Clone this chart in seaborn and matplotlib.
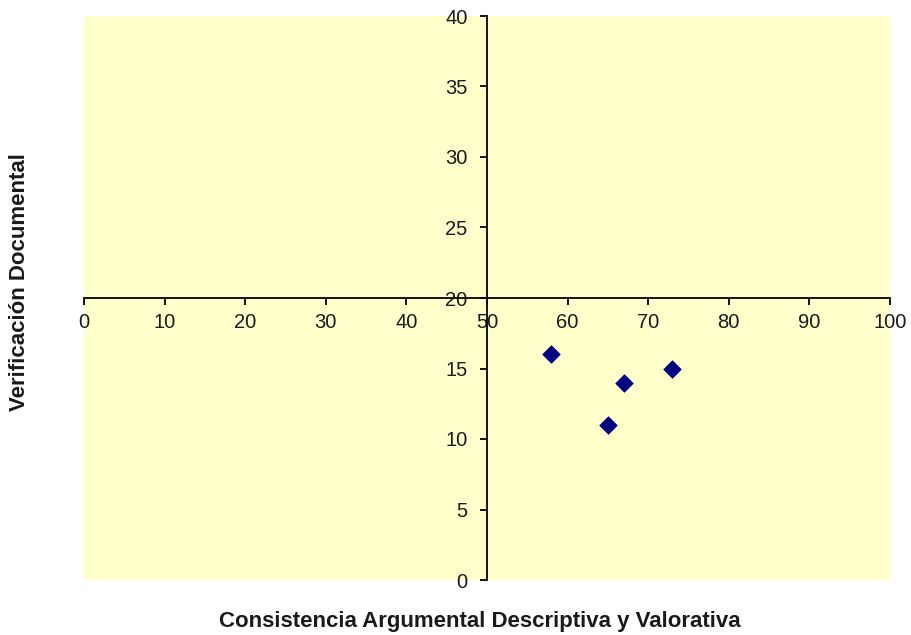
import matplotlib
matplotlib.use("Agg")
import matplotlib.pyplot as plt
import seaborn as sns
import pandas as pd

x_vals = [58, 65, 67, 73]
y_vals = [16, 11, 14, 15]
x_label = "Consistencia Argumental Descriptiva y Valorativa"
y_label = "Verificación Documental"
x_ticks = [0, 10, 20, 30, 40, 50, 60, 70, 80, 90, 100]
y_ticks = [0, 5, 10, 15, 20, 25, 30, 35, 40]

sns.set_theme(style="white")
plt.rcParams['font.family'] = ['Liberation Sans', 'DejaVu Sans']

df = pd.DataFrame({"x": x_vals, "y": y_vals})

fig = plt.figure(figsize=(9.12, 6.35), dpi=100)
ax = fig.add_axes([84/912, 55/635, (890-84)/912, (580-16)/635])
ax.set_facecolor("#FFFFCC")

sns.scatterplot(data=df, x="x", y="y", marker="D", s=80, color="#000080",
                edgecolor="#000080", linewidth=0.5, ax=ax, zorder=3)

ax.set_xlim(0, 100)
ax.set_ylim(0, 40)
ax.set_xticks(x_ticks)
ax.set_yticks(y_ticks)

ax.spines['left'].set_position(('data', 50))
ax.spines['bottom'].set_position(('data', 20))
ax.spines['right'].set_visible(False)
ax.spines['top'].set_visible(False)
for s in ['left', 'bottom']:
    ax.spines[s].set_color('black')
    ax.spines[s].set_linewidth(1.3)

ax.tick_params(axis='both', which='major', direction='out', length=5, width=1.3,
               color='black', labelsize=14.5, labelcolor='#1a1a1a')
ax.tick_params(axis='x', bottom=True, pad=6)
ax.tick_params(axis='y', left=True, pad=9)

ax.set_xlabel("")
ax.set_ylabel("")
fig.text(480/912, 1 - 622/635, x_label, ha='center', va='center',
         fontsize=16, fontweight='bold', color='#1a1a1a')
fig.text(20/912, 1 - 282/635, y_label, ha='center', va='center', rotation=90,
         fontsize=16, fontweight='bold', color='#1a1a1a')

fig.savefig("out.png", dpi=100)
